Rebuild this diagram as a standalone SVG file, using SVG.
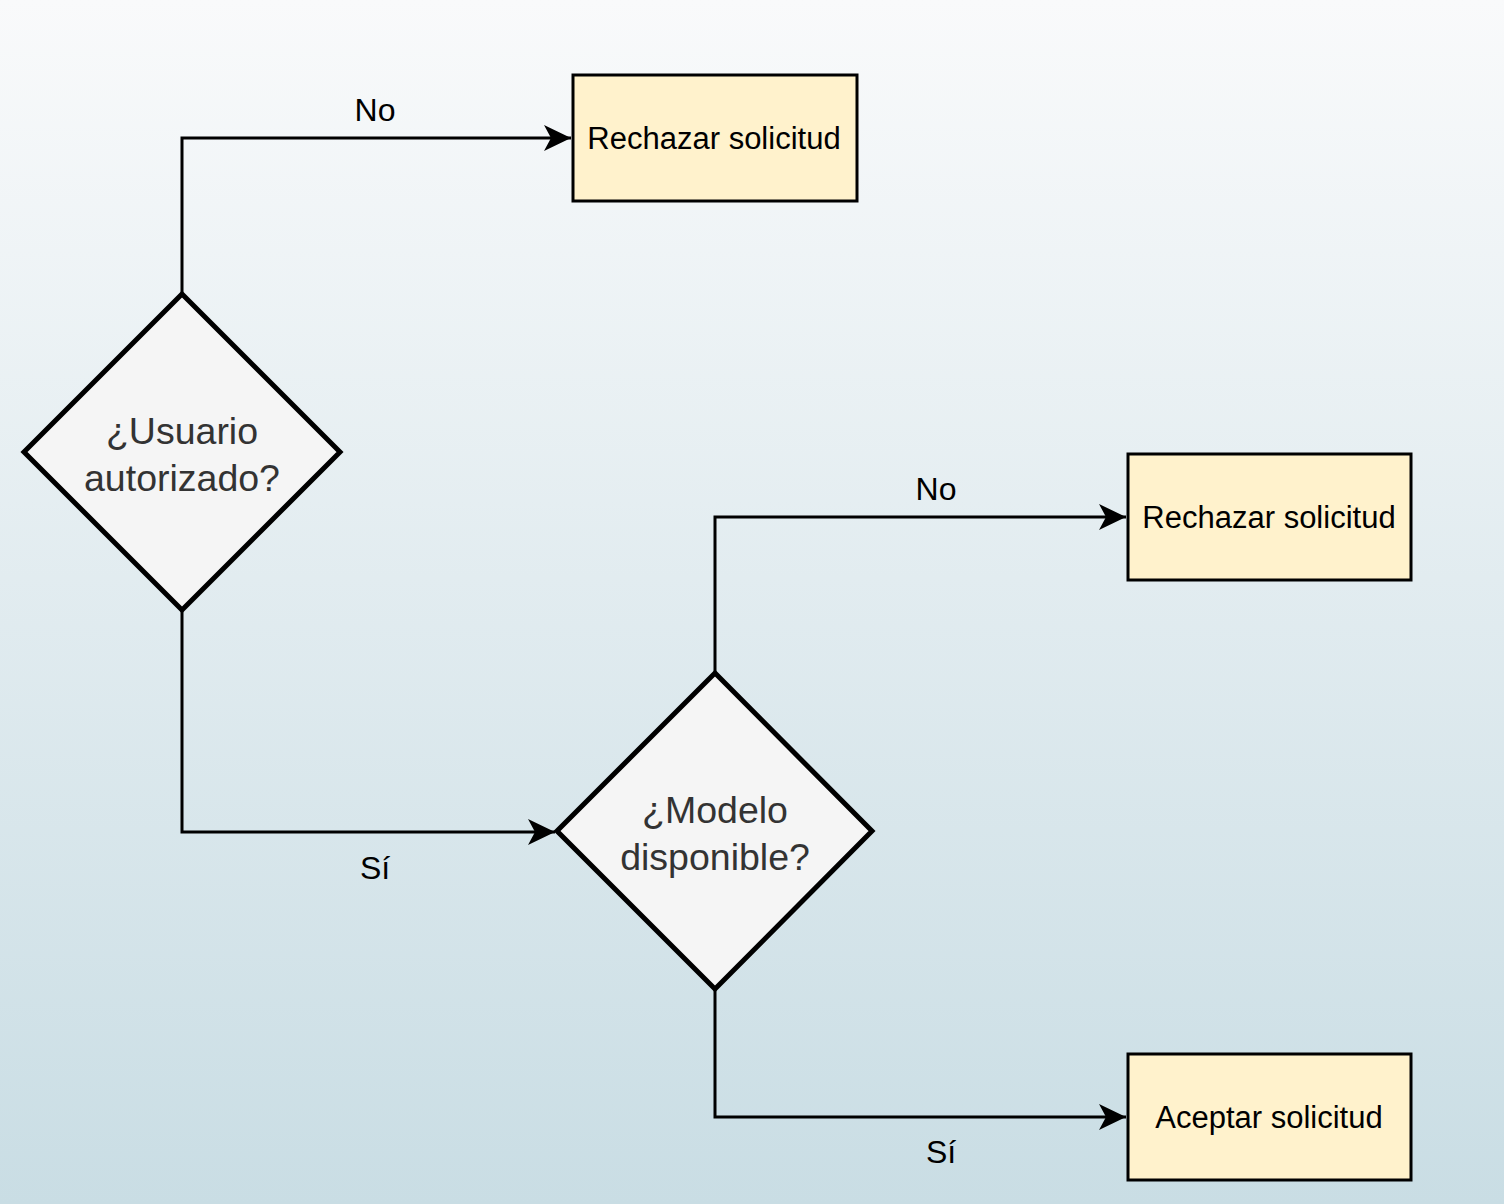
<svg xmlns="http://www.w3.org/2000/svg" width="1504" height="1204" viewBox="0 0 1504 1204">
<defs>
<linearGradient id="bg" x1="0" y1="0" x2="0" y2="1">
<stop offset="0" stop-color="#f9fafb"/>
<stop offset="1" stop-color="#c9dde4"/>
</linearGradient>
<marker id="arr" markerUnits="userSpaceOnUse" markerWidth="32" markerHeight="30" refX="27" refY="13" orient="auto" viewBox="0 0 32 26">
<path d="M0,0 L27,13 L0,26 L7,13 Z" fill="#000"/>
</marker>
<style>
.box{fill:#fff2cc;stroke:#000;stroke-width:3}
.dia{fill:#f5f5f5;stroke:#000;stroke-width:5;stroke-linejoin:miter}
.bt{font-family:"Liberation Sans",Arial,sans-serif;font-size:31px;fill:#000;text-anchor:middle}
.dt{font-family:"Liberation Sans",Arial,sans-serif;font-size:37.5px;fill:#333;text-anchor:middle}
.lbl{font-family:"Liberation Sans",Arial,sans-serif;font-size:32px;fill:#000;text-anchor:middle}
.edge{fill:none;stroke:#000;stroke-width:3;marker-end:url(#arr)}
</style>
</defs>
<rect x="0" y="0" width="1504" height="1204" fill="url(#bg)"/>
<g id="connectors">
<path class="edge" d="M182,294 V138 H571"/>
<path class="edge" d="M182,610 V832 H555"/>
<path class="edge" d="M715,673 V517 H1126"/>
<path class="edge" d="M715,989 V1117 H1126"/>
<text class="lbl" x="375" y="121">No</text>
<text class="lbl" x="375" y="879">Sí</text>
<text class="lbl" x="936" y="500">No</text>
<text class="lbl" x="941" y="1163">Sí</text>
</g>
<g id="d1">
<polygon class="dia" points="182,294 340,452 182,610 24,452"/>
<text class="dt" x="182" y="444">¿Usuario</text>
<text class="dt" x="182" y="491">autorizado?</text>
</g>
<g id="r1">
<rect class="box" x="573" y="75" width="284" height="126"/>
<text class="bt" x="714" y="149">Rechazar solicitud</text>
</g>
<g id="d2">
<polygon class="dia" points="715,673 872,831 715,989 557,831"/>
<text class="dt" x="715" y="823">¿Modelo</text>
<text class="dt" x="715" y="870">disponible?</text>
</g>
<g id="r2">
<rect class="box" x="1128" y="454" width="283" height="126"/>
<text class="bt" x="1269" y="528">Rechazar solicitud</text>
</g>
<g id="r3">
<rect class="box" x="1128" y="1054" width="283" height="126"/>
<text class="bt" x="1269" y="1128">Aceptar solicitud</text>
</g>
</svg>
